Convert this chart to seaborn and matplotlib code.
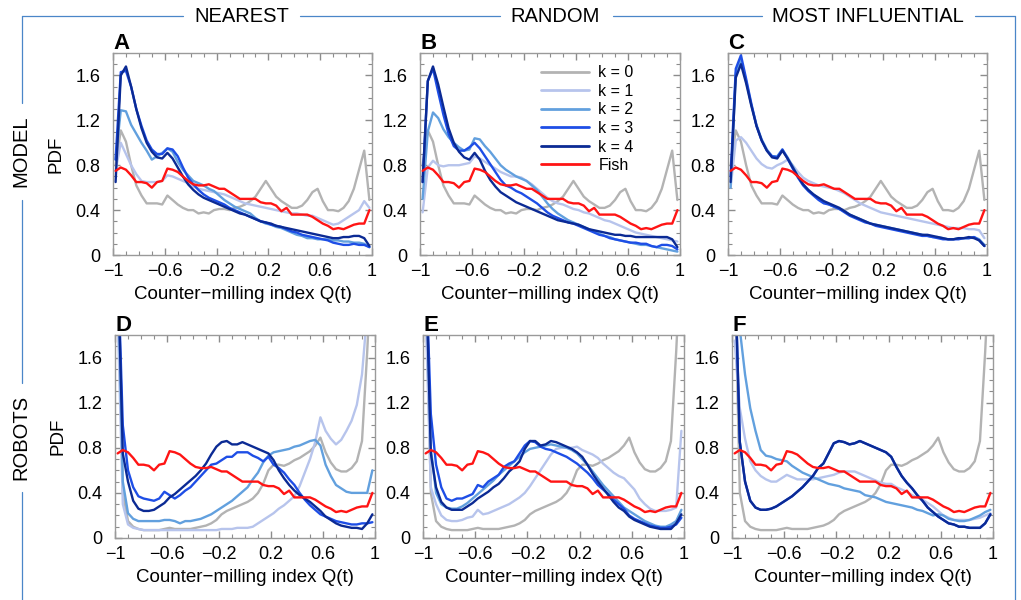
import numpy as np
import pandas as pd
import matplotlib.pyplot as plt
import matplotlib.ticker as mticker
from matplotlib.lines import Line2D
import seaborn as sns

# bin centres of the counter-milling index (50 bins of width 0.04)
q_bins = np.round(np.arange(-0.98, 0.99, 0.04), 2)

series_names = ["k = 0", "k = 1", "k = 2", "k = 3", "k = 4", "Fish"]
series_colors = ["#b3b3b3", "#b7c4ec", "#62a0de", "#1e4ee6", "#0b2a94", "#ff1414"]

fish = [0.75, 0.78, 0.76, 0.71, 0.65, 0.65, 0.64, 0.60, 0.65, 0.66,
        0.77, 0.76, 0.74, 0.70, 0.66, 0.63, 0.62, 0.62, 0.63, 0.61,
        0.59, 0.59, 0.56, 0.53, 0.50, 0.50, 0.50, 0.50, 0.47, 0.46,
        0.46, 0.44, 0.39, 0.42, 0.36, 0.36, 0.36, 0.36, 0.34, 0.31,
        0.28, 0.26, 0.23, 0.24, 0.23, 0.25, 0.27, 0.28, 0.28, 0.40]

# ---- MODEL row ----
model_k0 = [0.80, 1.11, 1.01, 0.80, 0.62, 0.53, 0.46, 0.46, 0.46, 0.45,
            0.53, 0.49, 0.45, 0.42, 0.40, 0.40, 0.37, 0.38, 0.37, 0.40,
            0.41, 0.41, 0.40, 0.42, 0.43, 0.45, 0.48, 0.52, 0.59, 0.66,
            0.59, 0.52, 0.48, 0.45, 0.42, 0.42, 0.44, 0.49, 0.56, 0.59,
            0.48, 0.40, 0.40, 0.39, 0.42, 0.48, 0.59, 0.76, 0.93, 0.49]

nearest_model_k1 = [0.75, 1.00, 0.90, 0.80, 0.72, 0.66, 0.65, 0.65, 0.65, 0.66,
                    0.71, 0.70, 0.68, 0.66, 0.64, 0.61, 0.59, 0.58, 0.57, 0.56,
                    0.55, 0.54, 0.52, 0.50, 0.48, 0.46, 0.45, 0.44, 0.43, 0.42,
                    0.41, 0.40, 0.39, 0.38, 0.37, 0.37, 0.36, 0.35, 0.35, 0.33,
                    0.31, 0.29, 0.27, 0.28, 0.31, 0.34, 0.37, 0.40, 0.48, 0.42]
nearest_model_k2 = [0.85, 1.29, 1.28, 1.16, 1.08, 1.00, 0.93, 0.85, 0.88, 0.91,
                    0.95, 0.92, 0.83, 0.76, 0.71, 0.66, 0.64, 0.62, 0.59, 0.57,
                    0.53, 0.49, 0.46, 0.43, 0.41, 0.39, 0.37, 0.33, 0.30, 0.28,
                    0.27, 0.25, 0.24, 0.22, 0.20, 0.18, 0.17, 0.15, 0.15, 0.14,
                    0.14, 0.14, 0.13, 0.13, 0.12, 0.12, 0.11, 0.11, 0.10, 0.07]
nearest_model_k3 = [0.85, 1.63, 1.64, 1.50, 1.30, 1.15, 1.02, 0.94, 0.90, 0.90,
                    0.95, 0.94, 0.88, 0.78, 0.69, 0.63, 0.58, 0.54, 0.51, 0.49,
                    0.47, 0.45, 0.42, 0.40, 0.38, 0.36, 0.34, 0.32, 0.30, 0.29,
                    0.27, 0.26, 0.25, 0.23, 0.21, 0.20, 0.18, 0.17, 0.16, 0.15,
                    0.14, 0.13, 0.11, 0.10, 0.09, 0.09, 0.10, 0.09, 0.09, 0.07]
nearest_model_k4 = [0.65, 1.60, 1.68, 1.50, 1.30, 1.13, 1.00, 0.92, 0.87, 0.86,
                    0.91, 0.86, 0.78, 0.70, 0.63, 0.58, 0.54, 0.51, 0.49, 0.47,
                    0.45, 0.43, 0.41, 0.39, 0.37, 0.36, 0.34, 0.32, 0.30, 0.29,
                    0.28, 0.26, 0.25, 0.24, 0.23, 0.22, 0.21, 0.20, 0.19, 0.18,
                    0.17, 0.16, 0.15, 0.15, 0.16, 0.16, 0.17, 0.17, 0.15, 0.08]

random_model_k1 = [0.38, 0.78, 0.84, 0.80, 0.79, 0.80, 0.80, 0.80, 0.81, 0.82,
                   0.88, 0.86, 0.83, 0.80, 0.77, 0.74, 0.72, 0.70, 0.70, 0.69,
                   0.66, 0.63, 0.59, 0.55, 0.51, 0.48, 0.46, 0.45, 0.43, 0.41,
                   0.40, 0.38, 0.37, 0.35, 0.33, 0.31, 0.30, 0.28, 0.26, 0.24,
                   0.22, 0.20, 0.19, 0.18, 0.17, 0.16, 0.15, 0.14, 0.13, 0.12]
random_model_k2 = [0.50, 1.10, 1.27, 1.22, 1.12, 1.05, 1.00, 0.96, 0.93, 0.94,
                   1.04, 1.03, 0.97, 0.92, 0.86, 0.80, 0.76, 0.73, 0.70, 0.68,
                   0.66, 0.62, 0.58, 0.52, 0.46, 0.41, 0.37, 0.34, 0.31, 0.29,
                   0.27, 0.25, 0.23, 0.21, 0.19, 0.17, 0.16, 0.14, 0.13, 0.12,
                   0.11, 0.10, 0.09, 0.09, 0.08, 0.07, 0.06, 0.05, 0.04, 0.03]
random_model_k3 = [0.65, 1.55, 1.66, 1.45, 1.25, 1.08, 0.97, 0.93, 0.93, 0.96,
                   1.00, 0.95, 0.88, 0.81, 0.74, 0.67, 0.62, 0.60, 0.57, 0.55,
                   0.52, 0.49, 0.46, 0.42, 0.38, 0.35, 0.33, 0.31, 0.29, 0.28,
                   0.26, 0.24, 0.22, 0.20, 0.18, 0.17, 0.15, 0.14, 0.13, 0.12,
                   0.11, 0.11, 0.10, 0.10, 0.08, 0.07, 0.09, 0.09, 0.08, 0.05]
random_model_k4 = [0.65, 1.55, 1.68, 1.52, 1.32, 1.13, 1.00, 0.92, 0.87, 0.85,
                   0.91, 0.85, 0.75, 0.67, 0.61, 0.56, 0.53, 0.50, 0.47, 0.45,
                   0.43, 0.41, 0.39, 0.37, 0.35, 0.33, 0.31, 0.30, 0.29, 0.28,
                   0.27, 0.25, 0.23, 0.22, 0.21, 0.20, 0.19, 0.18, 0.18, 0.17,
                   0.17, 0.16, 0.16, 0.16, 0.16, 0.16, 0.16, 0.16, 0.14, 0.07]

influential_model_k1 = [0.60, 1.02, 1.05, 1.00, 0.93, 0.86, 0.81, 0.78, 0.77, 0.80,
                        0.82, 0.85, 0.80, 0.74, 0.69, 0.66, 0.64, 0.62, 0.61, 0.60,
                        0.59, 0.57, 0.55, 0.52, 0.49, 0.46, 0.44, 0.42, 0.40, 0.38,
                        0.37, 0.36, 0.35, 0.34, 0.33, 0.32, 0.31, 0.30, 0.29, 0.28,
                        0.27, 0.26, 0.25, 0.24, 0.24, 0.24, 0.23, 0.23, 0.22, 0.15]
influential_model_k2 = [0.60, 1.62, 1.74, 1.55, 1.34, 1.16, 1.03, 0.94, 0.88, 0.88,
                        0.94, 0.87, 0.79, 0.70, 0.63, 0.58, 0.54, 0.50, 0.47, 0.45,
                        0.43, 0.41, 0.39, 0.36, 0.34, 0.32, 0.30, 0.28, 0.27, 0.26,
                        0.25, 0.24, 0.23, 0.22, 0.21, 0.20, 0.19, 0.18, 0.17, 0.16,
                        0.16, 0.15, 0.14, 0.14, 0.15, 0.15, 0.15, 0.16, 0.14, 0.09]
influential_model_k3 = [0.70, 1.66, 1.78, 1.57, 1.35, 1.15, 1.02, 0.93, 0.88, 0.87,
                        0.94, 0.86, 0.77, 0.69, 0.62, 0.57, 0.53, 0.49, 0.46, 0.45,
                        0.43, 0.41, 0.38, 0.35, 0.33, 0.31, 0.29, 0.28, 0.26, 0.25,
                        0.24, 0.23, 0.22, 0.21, 0.20, 0.19, 0.18, 0.17, 0.17, 0.16,
                        0.15, 0.14, 0.14, 0.14, 0.14, 0.15, 0.15, 0.16, 0.13, 0.08]
influential_model_k4 = [0.65, 1.58, 1.70, 1.53, 1.33, 1.15, 1.02, 0.93, 0.87, 0.86,
                        0.93, 0.86, 0.78, 0.70, 0.63, 0.58, 0.54, 0.51, 0.48, 0.46,
                        0.44, 0.42, 0.39, 0.36, 0.34, 0.32, 0.30, 0.28, 0.27, 0.26,
                        0.25, 0.24, 0.23, 0.22, 0.21, 0.20, 0.19, 0.18, 0.18, 0.17,
                        0.16, 0.15, 0.14, 0.14, 0.15, 0.15, 0.16, 0.15, 0.13, 0.08]

# ---- ROBOTS row ----
robots_k0 = [2.40, 0.40, 0.15, 0.10, 0.08, 0.07, 0.07, 0.07, 0.07, 0.08,
             0.09, 0.08, 0.08, 0.08, 0.08, 0.09, 0.10, 0.11, 0.13, 0.16,
             0.21, 0.24, 0.26, 0.28, 0.30, 0.32, 0.35, 0.40, 0.48, 0.60,
             0.65, 0.65, 0.64, 0.66, 0.69, 0.71, 0.74, 0.77, 0.82, 0.89,
             0.76, 0.67, 0.61, 0.59, 0.59, 0.62, 0.68, 0.86, 1.65, 2.60]

nearest_robots_k1 = [2.00, 0.30, 0.12, 0.09, 0.08, 0.07, 0.07, 0.07, 0.07, 0.07,
                     0.07, 0.07, 0.07, 0.07, 0.07, 0.07, 0.07, 0.07, 0.07, 0.07,
                     0.08, 0.08, 0.08, 0.09, 0.09, 0.09, 0.10, 0.13, 0.16, 0.19,
                     0.22, 0.26, 0.29, 0.33, 0.37, 0.46, 0.58, 0.70, 0.85, 1.07,
                     0.95, 0.88, 0.83, 0.87, 0.95, 1.04, 1.18, 1.45, 2.00, 2.40]
nearest_robots_k2 = [2.50, 0.50, 0.22, 0.17, 0.15, 0.15, 0.15, 0.15, 0.15, 0.16,
                     0.16, 0.15, 0.13, 0.15, 0.15, 0.16, 0.17, 0.19, 0.21, 0.24,
                     0.27, 0.30, 0.33, 0.37, 0.41, 0.45, 0.52, 0.58, 0.67, 0.73,
                     0.76, 0.77, 0.78, 0.79, 0.81, 0.82, 0.84, 0.86, 0.87, 0.82,
                     0.65, 0.55, 0.47, 0.44, 0.41, 0.40, 0.40, 0.40, 0.40, 0.60]
nearest_robots_k3 = [2.50, 1.00, 0.60, 0.45, 0.37, 0.35, 0.34, 0.33, 0.35, 0.41,
                     0.38, 0.35, 0.38, 0.42, 0.45, 0.50, 0.55, 0.60, 0.65, 0.66,
                     0.69, 0.72, 0.72, 0.76, 0.76, 0.76, 0.73, 0.71, 0.68, 0.72,
                     0.65, 0.62, 0.58, 0.52, 0.47, 0.40, 0.34, 0.29, 0.25, 0.21,
                     0.19, 0.17, 0.15, 0.14, 0.13, 0.12, 0.12, 0.13, 0.13, 0.14]
nearest_robots_k4 = [2.50, 0.75, 0.50, 0.33, 0.26, 0.24, 0.24, 0.25, 0.28, 0.31,
                     0.36, 0.39, 0.43, 0.47, 0.51, 0.55, 0.60, 0.66, 0.74, 0.81,
                     0.85, 0.86, 0.83, 0.83, 0.85, 0.83, 0.81, 0.79, 0.77, 0.75,
                     0.69, 0.60, 0.53, 0.47, 0.42, 0.38, 0.35, 0.32, 0.28, 0.24,
                     0.19, 0.16, 0.13, 0.11, 0.10, 0.09, 0.09, 0.08, 0.13, 0.21]

random_robots_k1 = [2.00, 0.45, 0.30, 0.20, 0.16, 0.15, 0.15, 0.16, 0.18, 0.19,
                    0.25, 0.21, 0.22, 0.24, 0.26, 0.28, 0.30, 0.33, 0.36, 0.40,
                    0.46, 0.53, 0.60, 0.67, 0.74, 0.79, 0.80, 0.80, 0.80, 0.81,
                    0.78, 0.76, 0.74, 0.71, 0.66, 0.62, 0.58, 0.55, 0.53, 0.48,
                    0.43, 0.35, 0.30, 0.26, 0.24, 0.24, 0.24, 0.25, 0.27, 0.95]
random_robots_k2 = [2.50, 0.80, 0.40, 0.30, 0.27, 0.26, 0.26, 0.28, 0.31, 0.35,
                    0.39, 0.43, 0.47, 0.51, 0.56, 0.60, 0.64, 0.68, 0.72, 0.76,
                    0.79, 0.80, 0.81, 0.82, 0.83, 0.82, 0.81, 0.80, 0.78, 0.75,
                    0.70, 0.65, 0.59, 0.53, 0.47, 0.42, 0.37, 0.32, 0.27, 0.24,
                    0.21, 0.18, 0.15, 0.13, 0.11, 0.10, 0.10, 0.12, 0.15, 0.25]
random_robots_k3 = [2.50, 1.10, 0.65, 0.45, 0.35, 0.33, 0.35, 0.35, 0.37, 0.39,
                    0.47, 0.45, 0.50, 0.53, 0.56, 0.63, 0.66, 0.68, 0.75, 0.82,
                    0.86, 0.85, 0.81, 0.79, 0.78, 0.76, 0.74, 0.72, 0.69, 0.66,
                    0.62, 0.58, 0.53, 0.47, 0.43, 0.39, 0.34, 0.30, 0.26, 0.20,
                    0.17, 0.15, 0.13, 0.11, 0.10, 0.09, 0.09, 0.10, 0.12, 0.18]
random_robots_k4 = [2.50, 0.75, 0.45, 0.32, 0.27, 0.25, 0.25, 0.25, 0.28, 0.31,
                    0.35, 0.38, 0.41, 0.45, 0.48, 0.53, 0.59, 0.63, 0.68, 0.79,
                    0.86, 0.86, 0.82, 0.83, 0.86, 0.85, 0.83, 0.81, 0.79, 0.76,
                    0.72, 0.65, 0.57, 0.50, 0.44, 0.38, 0.32, 0.27, 0.24, 0.19,
                    0.16, 0.14, 0.12, 0.10, 0.09, 0.08, 0.08, 0.08, 0.13, 0.21]

influential_robots_k1 = [1.75, 1.15, 0.88, 0.68, 0.60, 0.55, 0.52, 0.50, 0.50, 0.53,
                         0.56, 0.54, 0.52, 0.52, 0.52, 0.52, 0.53, 0.54, 0.55, 0.56,
                         0.58, 0.59, 0.59, 0.59, 0.57, 0.55, 0.53, 0.51, 0.49, 0.48,
                         0.48, 0.45, 0.43, 0.41, 0.38, 0.36, 0.34, 0.31, 0.28, 0.24,
                         0.20, 0.18, 0.16, 0.16, 0.16, 0.16, 0.17, 0.18, 0.20, 0.22]
influential_robots_k2 = [2.50, 1.85, 1.45, 1.15, 0.95, 0.78, 0.73, 0.72, 0.70, 0.69,
                         0.68, 0.64, 0.61, 0.58, 0.56, 0.54, 0.52, 0.50, 0.48, 0.47,
                         0.46, 0.44, 0.43, 0.42, 0.41, 0.38, 0.37, 0.36, 0.34, 0.32,
                         0.31, 0.30, 0.29, 0.28, 0.27, 0.25, 0.24, 0.22, 0.20, 0.21,
                         0.20, 0.17, 0.16, 0.15, 0.15, 0.16, 0.18, 0.20, 0.23, 0.25]
influential_robots_k3 = [2.50, 0.85, 0.50, 0.33, 0.27, 0.25, 0.25, 0.26, 0.28, 0.31,
                         0.34, 0.37, 0.41, 0.45, 0.50, 0.55, 0.62, 0.66, 0.75, 0.84,
                         0.86, 0.85, 0.83, 0.84, 0.86, 0.84, 0.82, 0.80, 0.78, 0.76,
                         0.72, 0.63, 0.55, 0.49, 0.44, 0.38, 0.33, 0.27, 0.23, 0.19,
                         0.16, 0.13, 0.12, 0.10, 0.10, 0.09, 0.09, 0.09, 0.13, 0.21]
influential_robots_k4 = [2.50, 0.85, 0.50, 0.33, 0.27, 0.25, 0.25, 0.26, 0.28, 0.31,
                         0.34, 0.37, 0.41, 0.45, 0.50, 0.55, 0.62, 0.66, 0.75, 0.84,
                         0.86, 0.85, 0.83, 0.84, 0.86, 0.84, 0.82, 0.80, 0.78, 0.76,
                         0.72, 0.63, 0.55, 0.49, 0.44, 0.38, 0.33, 0.27, 0.23, 0.19,
                         0.16, 0.13, 0.12, 0.10, 0.10, 0.09, 0.09, 0.09, 0.13, 0.21]

panel_curves = {
    "A": [model_k0, nearest_model_k1, nearest_model_k2, nearest_model_k3, nearest_model_k4, fish],
    "B": [model_k0, random_model_k1, random_model_k2, random_model_k3, random_model_k4, fish],
    "C": [model_k0, influential_model_k1, influential_model_k2, influential_model_k3, influential_model_k4, fish],
    "D": [robots_k0, nearest_robots_k1, nearest_robots_k2, nearest_robots_k3, nearest_robots_k4, fish],
    "E": [robots_k0, random_robots_k1, random_robots_k2, random_robots_k3, random_robots_k4, fish],
    "F": [robots_k0, influential_robots_k1, influential_robots_k2, influential_robots_k3, influential_robots_k4, fish],
}

W, H = 1021, 600
# axes boxes in pixels: left, top, right, bottom
panel_boxes = {
    "A": (113, 53, 372, 255), "B": (420, 53, 680, 255), "C": (728, 53, 987, 255),
    "D": (115, 335, 375, 538), "E": (423, 335, 684, 538), "F": (732, 335, 993, 538),
}

sns.set_style("white")
plt.rcParams["font.family"] = ["Liberation Sans", "DejaVu Sans"]
plt.rcParams["text.color"] = "black"
plt.rcParams["axes.labelcolor"] = "black"

fig = plt.figure(figsize=(W / 100, H / 100), dpi=100)
palette = dict(zip(series_names, series_colors))

for letter, curves in panel_curves.items():
    l, t, r, b = panel_boxes[letter]
    ax = fig.add_axes([l / W, 1 - b / H, (r - l) / W, (b - t) / H])
    df = pd.concat([pd.DataFrame({"Q": q_bins, "PDF": vals, "series": name})
                    for name, vals in zip(series_names, curves)], ignore_index=True)
    sns.lineplot(data=df, x="Q", y="PDF", hue="series", hue_order=series_names,
                 palette=palette, estimator=None, sort=False, linewidth=1.7,
                 legend=False, ax=ax)
    ax.set_xlim(-1, 1)
    ax.set_ylim(0, 1.8)
    ax.set_xticks([-1, -0.6, -0.2, 0.2, 0.6, 1], ["\u22121", "\u22120.6", "\u22120.2", "0.2", "0.6", "1"])
    ax.set_yticks([0, 0.4, 0.8, 1.2, 1.6], ["0", "0.4", "0.8", "1.2", "1.6"])
    ax.xaxis.set_minor_locator(mticker.MultipleLocator(0.1))
    ax.yaxis.set_minor_locator(mticker.MultipleLocator(0.1))
    ax.tick_params(which="both", direction="in", bottom=True, left=True, top=True, right=True,
                   color="#8c8c8c", labelcolor="black")
    ax.tick_params(which="major", length=5, width=1, labelsize=13)
    ax.tick_params(which="minor", length=3, width=0.8)
    ax.tick_params(axis="x", pad=6)
    ax.tick_params(axis="y", pad=9)
    for s in ax.spines.values():
        s.set_color("#9a9a9a")
        s.set_linewidth(1)
    ax.set_xlabel("Counter\u2212milling index Q(t)", fontsize=13.5, labelpad=4)
    if letter in ("A", "D"):
        ax.set_ylabel("PDF", fontsize=13.5, labelpad=8)
    else:
        ax.set_ylabel("")
    ax.text(0, 1.02, letter, transform=ax.transAxes, ha="left", va="baseline",
            fontsize=16, fontweight="bold")
    if letter == "B":
        handles = [Line2D([], [], color=c, lw=2) for c in series_colors]
        ax.legend(handles, series_names, loc="upper left", bbox_to_anchor=(0.44, 0.97),
                  frameon=False, fontsize=11.5, handlelength=3.0, handletextpad=0.6,
                  labelspacing=0.22, borderaxespad=0)

# blue bracket framing the figure
frame_color = "#4a86c8"
def px_line(x0, y0, x1, y1):
    fig.add_artist(Line2D([x0 / W, x1 / W], [1 - y0 / H, 1 - y1 / H],
                          transform=fig.transFigure, color=frame_color, lw=0.9))

px_line(22, 16, 183, 16)
px_line(300, 16, 500, 16)
px_line(613, 16, 762, 16)
px_line(975, 16, 1015, 16)
px_line(22, 16, 22, 103)
px_line(22, 200, 22, 383)
px_line(22, 492, 22, 600)
px_line(1015, 16, 1015, 600)

for label, xc in [("NEAREST", 242), ("RANDOM", 555), ("MOST INFLUENTIAL", 868)]:
    fig.text(xc / W, 1 - 16 / H, label, ha="center", va="center", fontsize=14.5)
fig.text(21 / W, 1 - 151 / H, "MODEL", rotation=90, ha="center", va="center", fontsize=14.5)
fig.text(21 / W, 1 - 437 / H, "ROBOTS", rotation=90, ha="center", va="center", fontsize=14.5)

fig.savefig("out.png", dpi=100)
